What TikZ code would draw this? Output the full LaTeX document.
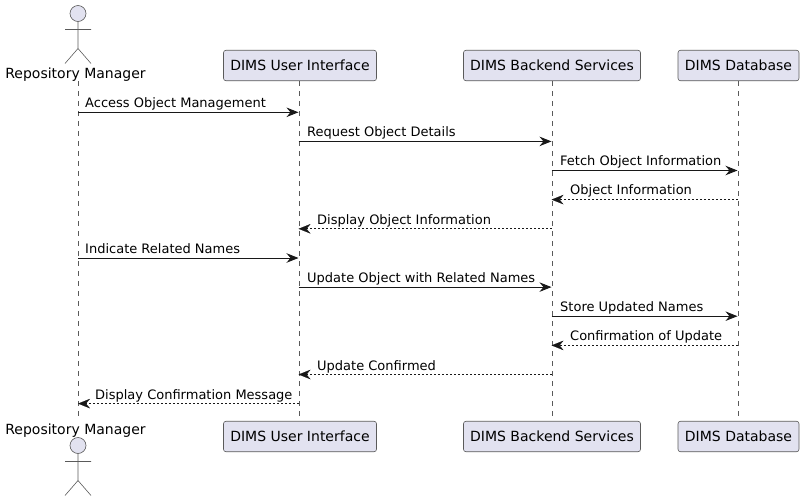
\documentclass[tikz,border=0pt]{standalone}
\usepackage{fontspec}
\setmainfont{DejaVu Sans}
\usetikzlibrary{arrows.meta}
\definecolor{pfill}{HTML}{E2E2F0}
\definecolor{pline}{HTML}{181818}
\definecolor{pthin}{HTML}{5A5A5A}
\tikzset{
  x=1pt,y=-1pt,
  participant/.style={draw=pthin,line width=0.6pt,fill=pfill,rounded corners=2.5pt,minimum height=30.5pt,inner xsep=0pt,inner ysep=0pt,font=\fontsize{14}{16}\selectfont,text=black},
  actorname/.style={inner sep=0pt,anchor=base,font=\fontsize{14}{16}\selectfont,text=black},
  actorpart/.style={draw=pthin,line width=0.6pt},
  lifeline/.style={draw=pthin,line width=0.5pt,dash pattern=on 5pt off 5pt},
  call/.style={draw=pline,line width=0.9pt,-{Stealth[length=12pt,width=9.5pt,inset=4pt]}},
  reply/.style={draw=pline,line width=0.7pt,dash pattern=on 2pt off 2pt,-{Stealth[length=12pt,width=9.5pt,inset=4pt,line width=0.2pt]}},
  msg/.style={inner sep=0pt,anchor=base west,font=\fontsize{13}{15}\selectfont,text=black}
}
\newcommand{\stickman}[2]{% x, head centre y
  \draw[actorpart,fill=pfill] (#1,#2) circle[radius=8];
  \draw[actorpart] (#1,#2+8) -- (#1,#2+35) (#1-13,#2+16) -- (#1+13,#2+16) (#1-13,#2+50) -- (#1,#2+35) -- (#1+13,#2+50);
}
\begin{document}
\begin{tikzpicture}
\useasboundingbox (0,0) rectangle (804,501);
% lifeline end points
\coordinate (rmS) at (78,81); \coordinate (rmE) at (78,419);
\coordinate (uiS) at (299,81); \coordinate (uiE) at (299,420);
\coordinate (beS) at (552,81); \coordinate (beE) at (552,420);
\coordinate (dbS) at (738,81); \coordinate (dbE) at (738,420);
\draw[lifeline] (rmS) -- (rmE);
\draw[lifeline] (uiS) -- (uiE);
\draw[lifeline] (beS) -- (beE);
\draw[lifeline] (dbS) -- (dbE);
% participants
\node[actorname] (rmT) at (75.5,78.5) {Repository Manager};
\node[actorname] (rmB) at (75.5,434.5) {Repository Manager};
\node[participant,minimum width=153pt] (uiT) at (300,65.5) {DIMS User Interface};
\node[participant,minimum width=153pt] (uiB) at (300,436.5) {DIMS User Interface};
\node[participant,minimum width=177pt] (beT) at (552,65.5) {DIMS Backend Services};
\node[participant,minimum width=177pt] (beB) at (552,436.5) {DIMS Backend Services};
\node[participant,minimum width=121pt] (dbT) at (738.5,65.5) {DIMS Database};
\node[participant,minimum width=121pt] (dbB) at (738.5,436.5) {DIMS Database};
\stickman{78}{13.5}
\stickman{78}{445.5}
% message end points
\foreach \n/\y in {1/112.3,2/141.4,3/170.5,4/199.6,5/228.8,6/258,7/287.1,8/316.2,9/345.4,10/374.5,11/403.6}{
  \coordinate (rm\n) at (78,\y);
  \coordinate (ui\n) at (298.5,\y);
  \coordinate (be\n) at (551.5,\y);
  \coordinate (db\n) at (737.5,\y);
}
\draw[call] (rm1) -- (ui1);
\draw[call] (ui2) -- (be2);
\draw[call] (be3) -- (db3);
\draw[reply] (db4) -- (be4);
\draw[reply] (be5) -- (ui5);
\draw[call] (rm6) -- (ui6);
\draw[call] (ui7) -- (be7);
\draw[call] (be8) -- (db8);
\draw[reply] (db9) -- (be9);
\draw[reply] (be10) -- (ui10);
\draw[reply] (ui11) -- (rm11);
% labels
\node[msg] (m1) at (85,107.6) {Access Object Management};
\node[msg] (m2) at (307,136.7) {Request Object Details};
\node[msg] (m3) at (560,165.8) {Fetch Object Information};
\node[msg] (m4) at (570,194.9) {Object Information};
\node[msg] (m5) at (317,224.1) {Display Object Information};
\node[msg] (m6) at (85,253.5) {Indicate Related Names};
\node[msg] (m7) at (307,282.6) {Update Object with Related Names};
\node[msg] (m8) at (560,311.7) {Store Updated Names};
\node[msg] (m9) at (570,340.9) {Confirmation of Update};
\node[msg] (m10) at (317,370) {Update Confirmed};
\node[msg] (m11) at (95,399.1) {Display Confirmation Message};
\end{tikzpicture}
\end{document}
